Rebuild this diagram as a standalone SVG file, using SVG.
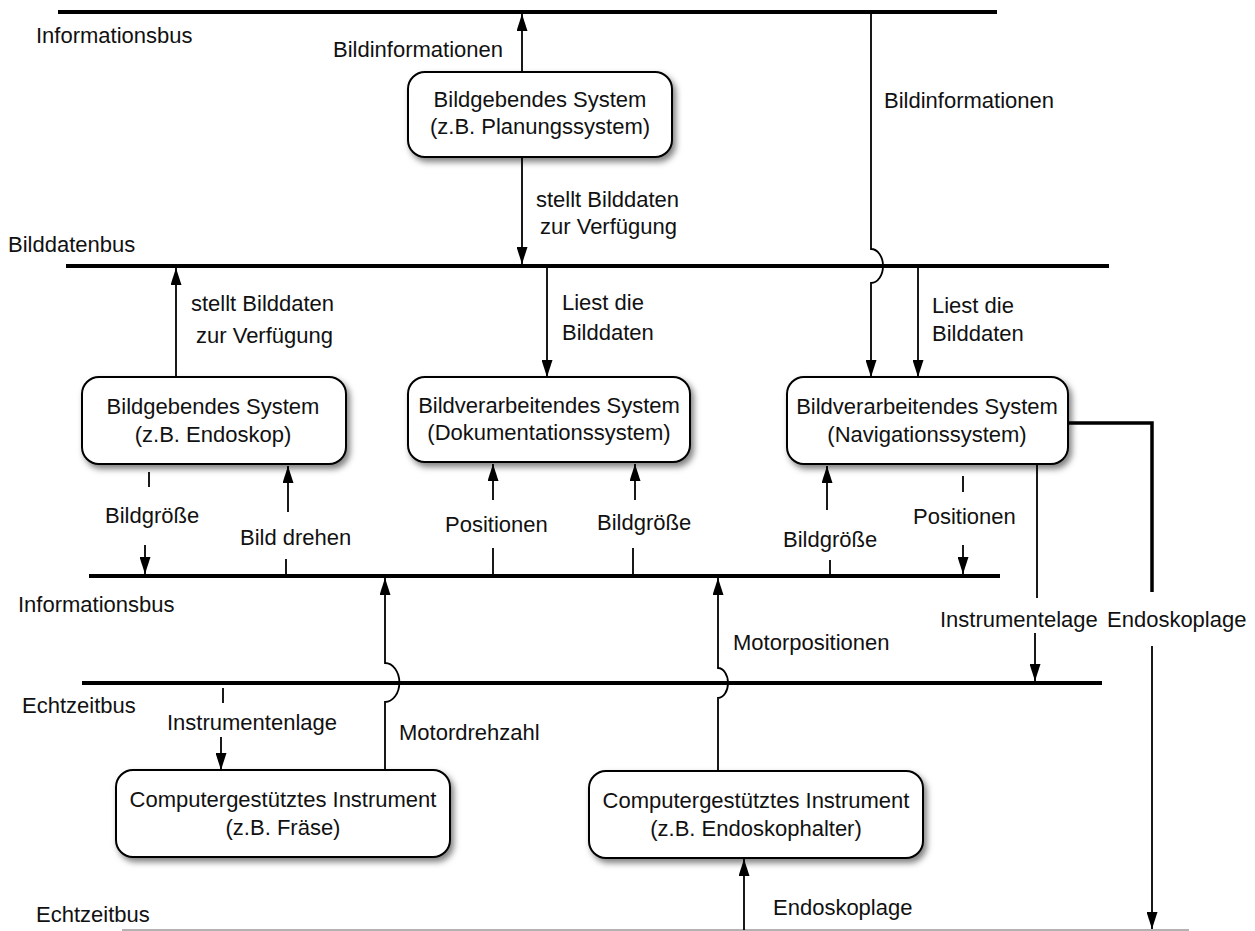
<svg xmlns="http://www.w3.org/2000/svg" width="1255" height="931" viewBox="0 0 1255 931">
<style>
text{font-family:"Liberation Sans",Arial,sans-serif;font-size:22px;fill:#111}
.c{text-anchor:middle}
.bus{stroke:#000;stroke-width:4;fill:none}
.ln{stroke:#000;stroke-width:1.8;fill:none}
.ar{stroke:#000;stroke-width:1.8;fill:none;marker-end:url(#ah)}
.box{fill:#fff;stroke:#000;stroke-width:2;filter:url(#sh)}
</style>
<defs>
<marker id="ah" markerUnits="userSpaceOnUse" markerWidth="17" markerHeight="11" refX="17" refY="5.5" orient="auto">
<path d="M0,0 L17,5.5 L0,11 z" fill="#000"/>
</marker>
<filter id="sh" x="-10%" y="-20%" width="125%" height="150%">
<feDropShadow dx="3" dy="4" stdDeviation="3" flood-color="#000" flood-opacity="0.5"/>
</filter>
</defs>
<rect width="1255" height="931" fill="#fff"/>

<g id="buses">
<line class="bus" x1="58" y1="12" x2="997" y2="12"/>
<text x="36" y="43">Informationsbus</text>
<line class="bus" x1="66" y1="266" x2="1109" y2="266"/>
<text x="8" y="252">Bilddatenbus</text>
<line class="bus" x1="89" y1="576" x2="1000" y2="576"/>
<text x="18" y="612">Informationsbus</text>
<line class="bus" x1="82" y1="683" x2="1102" y2="683"/>
<text x="22" y="713">Echtzeitbus</text>
<line x1="122" y1="930" x2="1189" y2="930" stroke="#999" stroke-width="1.5"/>
<text x="36" y="922">Echtzeitbus</text>
</g>

<g id="connectors">
<path class="ar" d="M522,72 V14"/>
<text x="503" y="57" text-anchor="end">Bildinformationen</text>
<path class="ar" d="M522,157 V264"/>
<text x="536" y="207">stellt Bilddaten</text>
<text x="540" y="234">zur Verfügung</text>
<path class="ar" d="M871,14 V249 A12 17 0 0 1 871,283 V377"/>
<text x="884" y="108">Bildinformationen</text>
<path class="ar" d="M176,377 V268"/>
<text x="191" y="311">stellt Bilddaten</text>
<text x="196" y="343">zur Verfügung</text>
<path class="ar" d="M547,268 V377"/>
<text x="562" y="310">Liest die</text>
<text x="562" y="340">Bilddaten</text>
<path class="ar" d="M918,268 V377"/>
<text x="932" y="313">Liest die</text>
<text x="932" y="341">Bilddaten</text>

<path class="ln" d="M149,472 V487"/>
<text x="105" y="523">Bildgröße</text>
<path class="ar" d="M145,545 V574"/>
<path class="ar" d="M288,512 V466"/>
<text x="240" y="545">Bild drehen</text>
<path class="ln" d="M286,559 V576"/>

<path class="ar" d="M493,500 V464"/>
<text x="445" y="532">Positionen</text>
<path class="ln" d="M493,548 V576"/>
<path class="ar" d="M635,500 V464"/>
<text x="597" y="530">Bildgröße</text>
<path class="ln" d="M633,548 V576"/>

<path class="ar" d="M827,510 V466"/>
<text x="783" y="547">Bildgröße</text>
<path class="ln" d="M830,560 V576"/>
<path class="ln" d="M963,476 V492"/>
<text x="913" y="524">Positionen</text>
<path class="ar" d="M963,545 V574"/>

<path class="ln" d="M1037,464 V598"/>
<text x="940" y="627">Instrumentelage</text>
<path class="ar" d="M1035,633 V681"/>
<path d="M1068,423 H1152 V592" fill="none" stroke="#000" stroke-width="3.5"/>
<text x="1107" y="627">Endoskoplage</text>
<path class="ar" d="M1152,646 V929"/>

<path class="ln" d="M223,688 V703"/>
<text x="167" y="730">Instrumentenlage</text>
<path class="ar" d="M221,737 V770"/>
<path class="ar" d="M385,770 V702 A14 19 0 0 0 385,663 V578"/>
<text x="399" y="740">Motordrehzahl</text>
<path class="ar" d="M718,771 V698 A10 15 0 0 0 718,668 V578"/>
<text x="733" y="650">Motorpositionen</text>
<path class="ar" d="M744,930 V859"/>
<text x="773" y="915">Endoskoplage</text>
</g>

<g id="n-planung">
<rect class="box" x="408" y="72" width="264" height="85" rx="17"/>
<text class="c" x="540" y="107">Bildgebendes System</text>
<text class="c" x="540" y="134">(z.B. Planungssystem)</text>
</g>
<g id="n-endoskop">
<rect class="box" x="82" y="377" width="264" height="87" rx="17"/>
<text class="c" x="213" y="414">Bildgebendes System</text>
<text class="c" x="213" y="442">(z.B. Endoskop)</text>
</g>
<g id="n-doku">
<rect class="box" x="408" y="377" width="282" height="85" rx="17"/>
<text class="c" x="549" y="413">Bildverarbeitendes System</text>
<text class="c" x="549" y="440">(Dokumentationssystem)</text>
</g>
<g id="n-navi">
<rect class="box" x="787" y="377" width="281" height="87" rx="17"/>
<text class="c" x="927" y="414">Bildverarbeitendes System</text>
<text class="c" x="927" y="442">(Navigationssystem)</text>
</g>
<g id="n-fraese">
<rect class="box" x="116" y="770" width="334" height="87" rx="17"/>
<text class="c" x="283" y="807">Computergestütztes Instrument</text>
<text class="c" x="283" y="835">(z.B. Fräse)</text>
</g>
<g id="n-halter">
<rect class="box" x="589" y="771" width="334" height="87" rx="17"/>
<text class="c" x="756" y="808">Computergestütztes Instrument</text>
<text class="c" x="756" y="836">(z.B. Endoskophalter)</text>
</g>
</svg>
